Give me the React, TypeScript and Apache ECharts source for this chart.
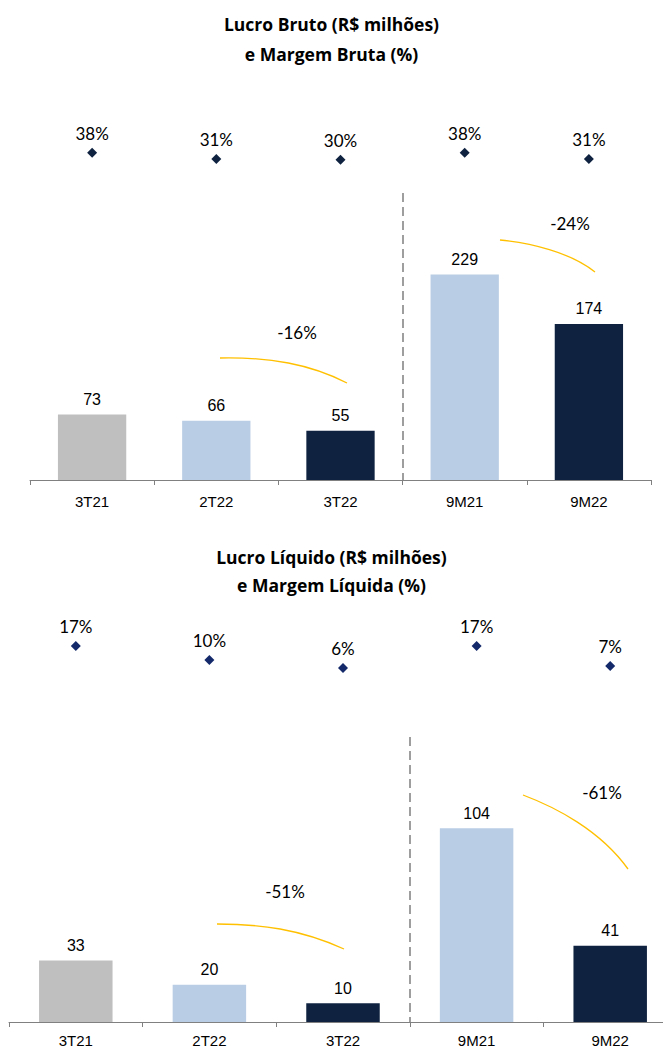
import React, { useEffect, useRef } from "react";
import * as echarts from "echarts";

const categories = ["3T21", "2T22", "3T22", "9M21", "9M22"];
const grossProfit = [73, 66, 55, 229, 174];
const grossMargin = [38, 31, 30, 38, 31];
const netProfit = [33, 20, 10, 104, 41];
const netMargin = [17, 10, 6, 17, 7];
const topGrowth = ["-16%", "-24%"];
const bottomGrowth = ["-51%", "-61%"];
const topTitle = "Lucro Bruto (R$ milhões)\ne Margem Bruta (%)";
const bottomTitle = "Lucro Líquido (R$ milhões)\ne Margem Líquida (%)";

const BAR_COLORS = ["#bfbfbf", "#b9cde4", "#0f2340", "#b9cde4", "#0f2340"];
const SPLIT_COLORS = ["rgba(0,0,0,0)", "rgba(0,0,0,0)", "rgba(0,0,0,0)", "#7f7f7f", "rgba(0,0,0,0)", "rgba(0,0,0,0)"];
const GOLD = "#ffc000";

export default function App() {
  const ref = useRef<HTMLDivElement>(null);
  useEffect(() => {
    if (!ref.current) return;
    const chart = echarts.init(ref.current, null, { renderer: "svg" });

    const xAxisBase = (gridIndex: number) => ({
      type: "category",
      gridIndex,
      data: categories,
      boundaryGap: true,
      axisLine: { show: true, lineStyle: { color: "#808080", width: 1 } },
      axisTick: { show: true, interval: 0, length: 5, lineStyle: { color: "#808080" } },
      axisLabel: {
        interval: 0,
        margin: gridIndex === 0 ? 14 : 11,
        color: "#000",
        fontFamily: "Liberation Sans",
        fontSize: 15,
      },
      splitLine: {
        show: true,
        interval: 0,
        lineStyle: { color: SPLIT_COLORS, type: [9, 5], width: 1.5 },
      },
    });

    const barLabel = {
      show: true,
      position: "top",
      distance: 7,
      color: "#000",
      fontFamily: "Liberation Sans",
      fontSize: 16,
    };
    const pctLabel = {
      show: true,
      position: "top",
      distance: 6,
      color: "#000",
      opacity: 1,
      fontFamily: "Lato",
      fontSize: 17,
      formatter: (p: any) => p.value + "%",
    };

    const growthText = (x: number, y: number, text: string) => ({
      type: "text",
      x,
      y,
      style: {
        text,
        fill: "#000",
        font: "17px Lato",
        textAlign: "center",
        textVerticalAlign: "middle",
      },
    });
    const curve = (x1: number, y1: number, cx1: number, cy1: number, cx2: number, cy2: number, x2: number, y2: number) => ({
      type: "bezierCurve",
      shape: { x1, y1, cpx1: cx1, cpy1: cy1, cpx2: cx2, cpy2: cy2, x2, y2 },
      style: { stroke: GOLD, lineWidth: 1.3, fill: null },
    });

    chart.setOption({
      animation: false,
      title: [
        {
          text: topTitle,
          left: "center",
          top: 4,
          textStyle: { fontFamily: "Open Sans", fontWeight: "bold", fontSize: 17.5, lineHeight: 30, color: "#000" },
        },
        {
          text: bottomTitle,
          left: "center",
          top: 538,
          textStyle: { fontFamily: "Open Sans", fontWeight: "bold", fontSize: 17.5, lineHeight: 28, color: "#000" },
        },
      ],
      grid: [
        { left: 30, right: 12, top: 193, height: 287, outerBoundsMode: "none", containLabel: false },
        { left: 9, right: -14, top: 737, height: 285, outerBoundsMode: "none", containLabel: false },
      ],
      xAxis: [xAxisBase(0), xAxisBase(1)],
      yAxis: [
        { type: "value", gridIndex: 0, min: 0, max: 320, show: false },
        { type: "value", gridIndex: 0, min: -336, max: -8, show: false },
        { type: "value", gridIndex: 1, min: 0, max: 153, show: false },
        { type: "value", gridIndex: 1, min: -171, max: -28.5, show: false },
      ],
      series: [
        {
          type: "bar",
          xAxisIndex: 0,
          yAxisIndex: 0,
          data: grossProfit,
          barWidth: "55%",
          itemStyle: { color: (p: any) => BAR_COLORS[p.dataIndex] },
          label: barLabel,
        },
        {
          type: "scatter",
          xAxisIndex: 0,
          yAxisIndex: 1,
          data: grossMargin,
          symbol: "diamond",
          symbolSize: 10,
          clip: false,
          itemStyle: { color: "#0f2340", opacity: 1 },
          label: pctLabel,
        },
        {
          type: "bar",
          xAxisIndex: 1,
          yAxisIndex: 2,
          data: netProfit,
          barWidth: "55%",
          itemStyle: { color: (p: any) => BAR_COLORS[p.dataIndex] },
          label: barLabel,
        },
        {
          type: "scatter",
          xAxisIndex: 1,
          yAxisIndex: 3,
          data: netMargin,
          symbol: "diamond",
          symbolSize: 10,
          clip: false,
          itemStyle: { color: "#13296a", opacity: 1 },
          label: pctLabel,
        },
      ],
      graphic: [
        curve(220, 358, 270, 357, 310, 364, 347, 383),
        growthText(297, 332, topGrowth[0]),
        curve(500, 240, 530, 243, 570, 252, 595, 272),
        growthText(570, 223, topGrowth[1]),
        curve(217, 924, 260, 924, 300, 929, 344, 949),
        growthText(285, 891, bottomGrowth[0]),
        curve(523, 795, 555, 807, 600, 830, 628, 869),
        growthText(602, 792, bottomGrowth[1]),
      ],
    });
    return () => chart.dispose();
  }, []);
  return (
    <div
      ref={ref}
      style={{ position: "absolute", left: 0, top: 0, width: 663, height: 1052, background: "#fff" }}
    />
  );
}
